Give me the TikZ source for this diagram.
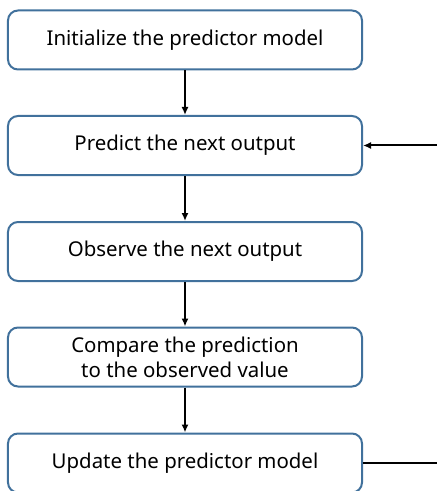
\documentclass[tikz,border=0pt]{standalone}
\usepackage{fontspec}
\setmainfont{Noto Sans}
\usepackage{tikz}
\usetikzlibrary{arrows.meta}

\definecolor{boxblue}{RGB}{65,113,156}
\tikzset{
  stepbox/.style={draw=boxblue, line width=2bp, rounded corners=10bp, fill=white,
    minimum width=354bp, minimum height=59bp, align=center,
    font=\fontsize{20.5}{25}\selectfont},
  flow/.style={line width=2bp, -{Latex[length=8bp,width=7bp]}}
}

\begin{document}
\begin{tikzpicture}[x=1bp,y=-1bp]
\useasboundingbox (0,0) rectangle (437,491);
\node [stepbox] (init) at (185,40) {Initialize the predictor model};
\node [stepbox] (predict) at (185,145.5) {Predict the next output};
\node [stepbox] (observe) at (185,251.5) {Observe the next output};
\node [stepbox] (compare) at (185,357) {Compare the prediction\\to the observed value};
\node [stepbox] (update) at (185,463) {Update the predictor model};

\draw [flow] (init) -- (predict);
\draw [flow] (predict) -- (observe);
\draw [flow] (observe) -- (compare);
\draw [flow] (compare) -- (update);

% loop back ends at the page edge
\coordinate (back) at (437,145.5);
\coordinate (out) at (437,463);
\draw [flow] (back) -- (predict.east);
\draw [line width=2bp] (update.east) -- (out);
\end{tikzpicture}
\end{document}
